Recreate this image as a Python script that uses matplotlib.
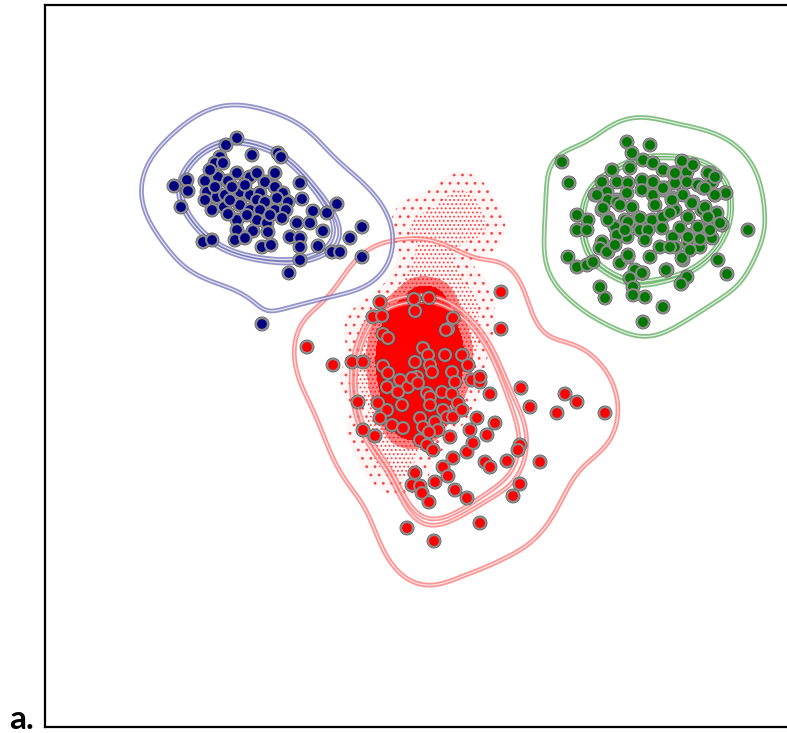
import numpy as np
import matplotlib
matplotlib.use("Agg")
import matplotlib.pyplot as plt
import matplotlib.patheffects as pe

# ---- data (pixel-like coordinates; y grows downward) ----
blue_x = [237,226,252,278,281,220,215,223,187,174,188,181,205,218,228,237,250,257,275,265,300,
          207,217,225,240,250,260,275,283,205,224,240,257,265,277,288,302,250,260,275,286,313,327,337,
          237,257,267,282,297,310,237,253,268,323,362,203,212,235,245,290,300,350,
          262,271,300,318,332,340,362,300,289,262,210,232,245,215,230,247,270,228,212]
blue_y = [138,145,155,153,157,157,163,163,180,186,191,207,181,177,181,173,177,173,173,182,183,
          192,197,195,192,195,193,187,193,200,207,205,200,202,198,202,199,210,210,210,210,211,213,204,
          220,220,223,218,223,223,230,231,232,231,227,242,240,240,238,237,238,238,
          247,245,247,246,252,252,257,260,273,324,170,187,185,187,200,215,215,214,210]

green_x = [627,650,562,569,632,643,682,612,630,653,663,673,687,693,710,602,617,628,642,653,665,675,687,698,712,
           595,607,617,627,642,653,663,672,683,693,703,715,725,577,588,602,608,625,638,652,663,675,688,702,717,722,
           577,587,615,627,640,662,673,687,698,712,748,602,617,660,675,688,700,568,577,587,593,608,620,628,635,643,
           650,667,683,718,727,630,633,600,605,633,645,663,682,687,643,
           597,608,617,603,608,628,640,600,625,648,607,628,642,675,708,715,726,663,705,715,672,692,705,670,688,708,720,
           680,698,710,688,700,670,682,666,681,620,655,645,632,615,690]
green_y = [142,145,162,183,153,160,161,170,168,163,170,173,172,165,173,182,182,183,180,182,188,183,182,185,182,
           195,192,200,193,190,195,190,198,195,202,188,195,193,215,220,210,218,220,218,220,217,210,217,210,213,225,
           230,230,227,237,230,228,237,235,228,238,230,242,235,247,247,243,247,257,267,265,262,252,263,257,270,273,
           257,270,260,260,274,278,287,287,298,295,297,307,283,277,322,
           195,200,202,208,220,222,218,248,230,230,252,255,273,173,173,177,193,188,188,195,200,203,207,213,217,217,223,
           228,227,230,237,239,247,258,270,284,205,205,240,207,245,250]

red_x = [501,501,414,429,415,380,373,382,453,448,383,307,333,352,363,415,423,428,430,445,462,468,383,388,400,408,
         417,432,452,455,472,480,480,387,398,427,442,452,490,521,565,577,358,378,387,402,430,430,443,458,530,557,605,
         380,392,403,420,435,447,453,462,477,495,363,375,423,438,450,470,487,420,427,433,467,473,520,518,453,443,485,
         490,507,540,415,412,420,435,448,422,429,455,467,520,513,407,480,434,446,388,412,418,429]
red_y = [292,329,299,298,311,302,317,316,318,329,334,347,365,362,362,362,348,355,365,355,355,365,366,373,380,387,
         377,372,372,382,380,382,377,387,392,393,392,394,394,388,394,402,402,403,410,405,397,405,410,403,407,413,413,
         418,425,428,418,422,417,417,410,418,423,430,436,427,430,437,430,435,440,445,450,452,443,445,450,458,467,462,
         467,461,462,473,485,486,482,476,493,502,490,498,484,496,528,523,541,330,338,378,383,432]

# dense red sample cloud: core positions and faint outskirts
cloud_x = [418,434,400,420,440,392,410,428,446,388,405,422,440,452,386,403,420,437,452,388,405,422,438,450,
           392,410,427,442,398,415,430,405,420]
cloud_y = [296,298,312,312,312,328,328,328,328,345,345,345,345,345,362,362,362,362,362,380,380,380,380,380,
           398,398,398,398,414,414,414,428,428]
dust_x = [432,442,450,462,426,440,466,372,368,375,388,402,466,418,478]
dust_y = [262,240,218,200,280,282,300,330,380,430,455,468,330,225,228]

label_text = "a."

# ---- figure ----
plt.rcParams["hatch.color"] = "#ff4040"
plt.rcParams["hatch.linewidth"] = 0.8
W, H = 787, 733
fig = plt.figure(figsize=(W / 100, H / 100), dpi=100)
ax = fig.add_axes([45 / W, 6 / H, 1 - 45 / W, (727 - 5) / H])
ax.set_xlim(45, 787)
ax.set_ylim(727, 5)
ax.set_xticks([])
ax.set_yticks([])
for s in ["left", "top", "bottom"]:
    ax.spines[s].set_linewidth(1.6)
ax.spines["right"].set_visible(False)

gx = np.arange(45, 788, 2.0)
gy = np.arange(5, 728, 2.0)
X, Y = np.meshgrid(gx, gy)


def kde(px, py, hx, hy=None):
    hy = hx if hy is None else hy
    d = np.zeros_like(X)
    for x, y in zip(px, py):
        d += np.exp(-((X - x) ** 2) / (2 * hx * hx) - ((Y - y) ** 2) / (2 * hy * hy))
    return d / d.max()


# red sample cloud (speckled outskirts, fuzzy halo, solid core)
core = kde(cloud_x, cloud_y, 11)
dust = kde(dust_x + cloud_x, dust_y + cloud_y, 15)
ax.contourf(X, Y, dust, levels=[0.04, 2], colors=["#ff0000"], alpha=0.04, zorder=1)
ax.contourf(X, Y, dust, levels=[0.04, 0.2], colors="none", hatches=[".."], zorder=1)
ax.contourf(X, Y, dust, levels=[0.2, 2], colors="none", hatches=["...."], zorder=1)
ax.contourf(X, Y, core, levels=[0.10, 0.35], colors=["#ff0000"], alpha=0.45, zorder=1)
ax.contourf(X, Y, core, levels=[0.35, 2], colors=["#ff0000"], zorder=1)


def draw_contours(D, levels, color):
    ax.contour(X, Y, D, levels=levels, colors=[color], linewidths=3.4, alpha=0.75, zorder=2)
    ax.contour(X, Y, D, levels=levels, colors=["white"], linewidths=0.9, alpha=0.75, zorder=2)


Db = kde(blue_x, blue_y, 26)
Dg = kde(green_x, green_y, 23)
Dr = kde(red_x, red_y, 24, 40)
draw_contours(Dr, [0.045, 0.28, 0.32], "#ff7070")
draw_contours(Dg, [0.07, 0.45, 0.49], "#5aaa5a")
draw_contours(Db, [0.05, 0.32, 0.36], "#6f6fb8")


def draw_points(px, py, col):
    sc = ax.scatter(px, py, s=72, c=col, edgecolors="#8c8c8c", linewidths=1.5, zorder=3)
    sc.set_path_effects([pe.Stroke(linewidth=2.2, foreground="#505050"), pe.Normal()])


draw_points(red_x, red_y, "#ff0000")
draw_points(green_x, green_y, "#007800")
draw_points(blue_x, blue_y, "#000080")

fig.text(9 / W, 1 - 729 / H, label_text, fontsize=24, fontweight="bold", family=["Lato", "DejaVu Sans"],
         va="baseline", ha="left")

fig.savefig("out.png", dpi=100)
